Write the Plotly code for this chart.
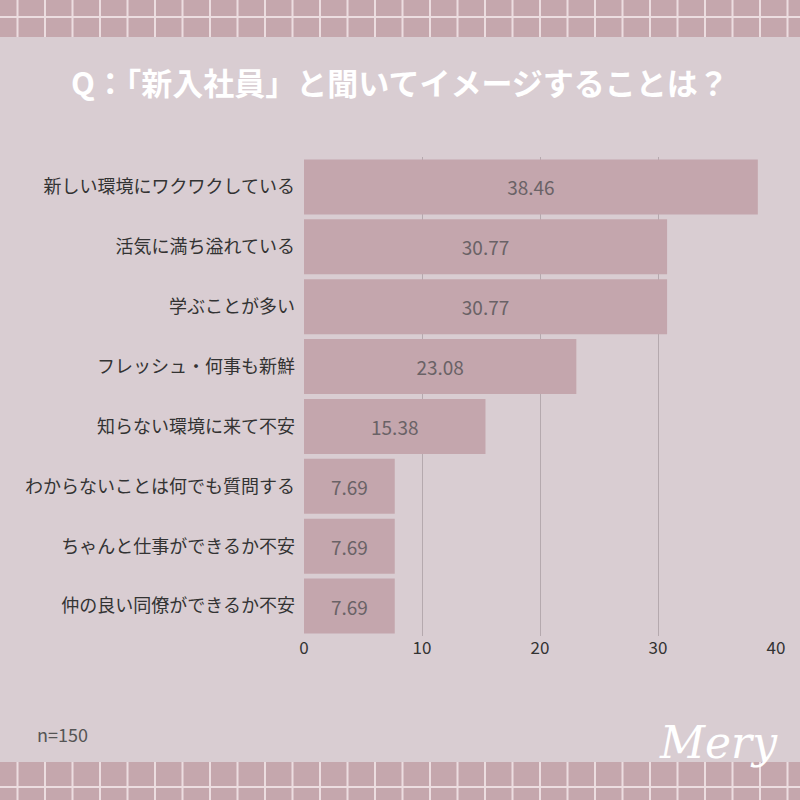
import plotly.graph_objects as go

categories = ["新しい環境にワクワクしている","活気に満ち溢れている","学ぶことが多い","フレッシュ・何事も新鮮",
              "知らない環境に来て不安","わからないことは何でも質問する","ちゃんと仕事ができるか不安","仲の良い同僚ができるか不安"]
values = [38.46,30.77,30.77,23.08,15.38,7.69,7.69,7.69]

W=H=800
L,R,T,B=304,24,157,164
pw=W-L-R; ph=H-T-B
def px(x): return (x-L)/pw
def py(y): return (H-B-y)/ph

fig=go.Figure(go.Bar(x=values,y=categories,orientation="h",width=0.92,
    marker=dict(color="#c4a6ad",line=dict(width=0)),
    text=[f"{v:.2f}" for v in values],textposition="inside",insidetextanchor="middle",
    textfont=dict(size=19,color="#6a6266",family="Noto Sans CJK JP"),cliponaxis=False))

shapes=[]
for y0,y1,hl in [(0,37,17),(762,800,787)]:
    shapes.append(dict(type="rect",xref="paper",yref="paper",x0=px(0),x1=px(800),y0=py(y1),y1=py(y0),
                       fillcolor="#c5a7ad",line=dict(width=0),layer="below"))
    shapes.append(dict(type="line",xref="paper",yref="paper",x0=px(0),x1=px(800),y0=py(hl),y1=py(hl),
                       line=dict(color="#ecdde0",width=2)))
    xv=17.5
    while xv<800:
        shapes.append(dict(type="line",xref="paper",yref="paper",x0=px(xv),x1=px(xv),y0=py(y1),y1=py(y0),
                           line=dict(color="#ecdde0",width=2)))
        xv+=27.5

fig.update_layout(width=W,height=H,margin=dict(l=L,r=R,t=T,b=B),
    paper_bgcolor="#d9cdd2",plot_bgcolor="#d9cdd2",showlegend=False,shapes=shapes,
    font=dict(family="Noto Sans CJK JP",color="#333333"),
    xaxis=dict(range=[0,40],tickvals=[0,10,20,30,40],showgrid=True,gridcolor="#b5a9ae",gridwidth=1,
               zeroline=False,showline=False,tickfont=dict(size=17,color="#333333"),fixedrange=True),
    yaxis=dict(autorange="reversed",showgrid=False,tickfont=dict(size=18,color="#333333"),ticksuffix="  "),
    annotations=[
        dict(text="<b>Q：「新入社員」と聞いてイメージすることは？</b>",xref="paper",yref="paper",x=px(400),y=py(82),
             xanchor="center",yanchor="middle",showarrow=False,font=dict(size=31,color="white")),
        dict(text="n=150",xref="paper",yref="paper",x=px(35),y=py(734),xanchor="left",yanchor="middle",showarrow=False,
             font=dict(size=18,color="#555555")),
        dict(text="<i>Mery</i>",xref="paper",yref="paper",x=px(718),y=py(742),xanchor="center",yanchor="middle",showarrow=False,
             font=dict(size=44,color="white",family="DejaVu Serif")),
    ])
fig.write_html("out.html",config={"displayModeBar":False},post_script="document.body.style.margin='0';")
